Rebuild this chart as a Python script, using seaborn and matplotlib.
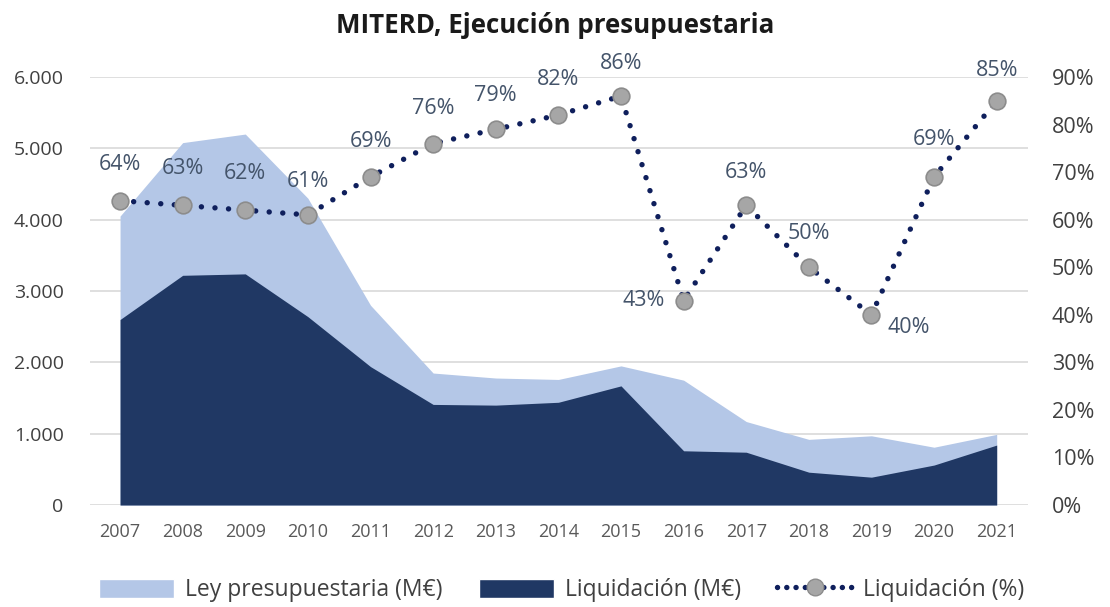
import matplotlib.pyplot as plt
import matplotlib.ticker as mticker
from matplotlib.patches import Patch
from matplotlib.lines import Line2D
import seaborn as sns
import pandas as pd

years = [2007, 2008, 2009, 2010, 2011, 2012, 2013, 2014, 2015, 2016, 2017, 2018, 2019, 2020, 2021]
ley = [4050, 5080, 5200, 4300, 2800, 1850, 1780, 1760, 1950, 1750, 1170, 920, 970, 810, 990]
liquidacion = [2600, 3220, 3240, 2640, 1940, 1410, 1400, 1440, 1670, 760, 740, 460, 390, 560, 840]
pct = [64, 63, 62, 61, 69, 76, 79, 82, 86, 43, 63, 50, 40, 69, 85]

df = pd.DataFrame({'year': years, 'ley': ley, 'liq': liquidacion, 'pct': [p / 100 for p in pct]})
df['pos'] = range(len(df))

# label offsets in pixels (dx, dy up)
label_offsets = [(0, 36), (0, 37), (0, 37), (0, 33), (0, 35), (0, 35), (0, 34),
                 (0, 36), (0, 33), (-40, 0), (0, 33), (0, 34), (37, -13), (0, 37), (0, 30)]

light = '#b4c7e7'
dark = '#203864'
navy = '#0f1f5c'
lbl = '#44546a'

sns.set_theme(style='white')
plt.rcParams['font.family'] = ['Open Sans', 'DejaVu Sans']

fig = plt.figure(figsize=(11.1, 6.07), dpi=100)
ax = fig.add_axes([90 / 1110, 1 - 505 / 607, (1028 - 90) / 1110, (505 - 77) / 607])
ax2 = ax.twinx()

ax.fill_between(df['pos'], df['ley'], color=light, linewidth=0, zorder=2)
ax.fill_between(df['pos'], df['liq'], color=dark, linewidth=0, zorder=3)

sns.lineplot(data=df, x='pos', y='pct', ax=ax2, color=navy, linewidth=3.9,
             linestyle=(0, (0.01, 2.5)), dash_capstyle='round',
             marker='o', markersize=12, markerfacecolor='#a6a6a6',
             markeredgecolor='#8c8c8c', markeredgewidth=1.2, zorder=5)

for i, row in df.iterrows():
    dx, dy = label_offsets[i]
    ax2.annotate(f"{pct[i]}%", (row['pos'], row['pct']), xytext=(dx * 0.72, dy * 0.72),
                 textcoords='offset points', ha='center', va='center',
                 fontsize=15.5, color=lbl)

ax.set_xlim(-0.48, 14.5)
ax.set_ylim(0, 6000)
ax2.set_ylim(0, 0.9)
ax.set_yticks(range(0, 6001, 1000))
ax2.set_yticks([i / 10 for i in range(10)])
ax.yaxis.set_major_formatter(mticker.FuncFormatter(lambda v, p: f"{int(v):,}".replace(',', '.')))
ax2.yaxis.set_major_formatter(mticker.FuncFormatter(lambda v, p: f"{round(v * 100)}%"))
ax.set_xticks(df['pos'])
ax.set_xticklabels(years)

ax.grid(axis='y', color='#d9d9d9', linewidth=1.2, zorder=0)
ax.set_axisbelow(True)
for a in (ax, ax2):
    for s in a.spines.values():
        s.set_visible(False)
    a.set_xlabel('')
    a.set_ylabel('')
ax.tick_params(axis='y', length=0, pad=19, labelsize=14, labelcolor='#404040')
ax.tick_params(axis='x', length=0, pad=13, labelsize=13, labelcolor='#595959')
ax2.tick_params(axis='y', length=0, pad=17, labelsize=15.5, labelcolor='#404040')

fig.suptitle('MITERD, Ejecución presupuestaria', x=0.5, y=0.98, fontsize=18.6,
             fontweight='bold', color='#1a1a1a')

handles = [
    Patch(facecolor=light, label='Ley presupuestaria (M€)'),
    Patch(facecolor=dark, label='Liquidación (M€)'),
    Line2D([0], [0], color=navy, linewidth=3.9, linestyle=(0, (0.01, 1.7)), dash_capstyle='round',
           marker='o', markersize=12, markerfacecolor='#a6a6a6', markeredgecolor='#8c8c8c',
           label='Liquidación (%)'),
]
fig.legend(handles=handles, loc='center', bbox_to_anchor=(0.506, 1 - 590 / 607), ncol=3,
           frameon=False, fontsize=16.5, handlelength=3.3, handleheight=0.9,
           columnspacing=1.6, handletextpad=0.45, labelcolor='#404040')

fig.savefig('out.png', dpi=100)
